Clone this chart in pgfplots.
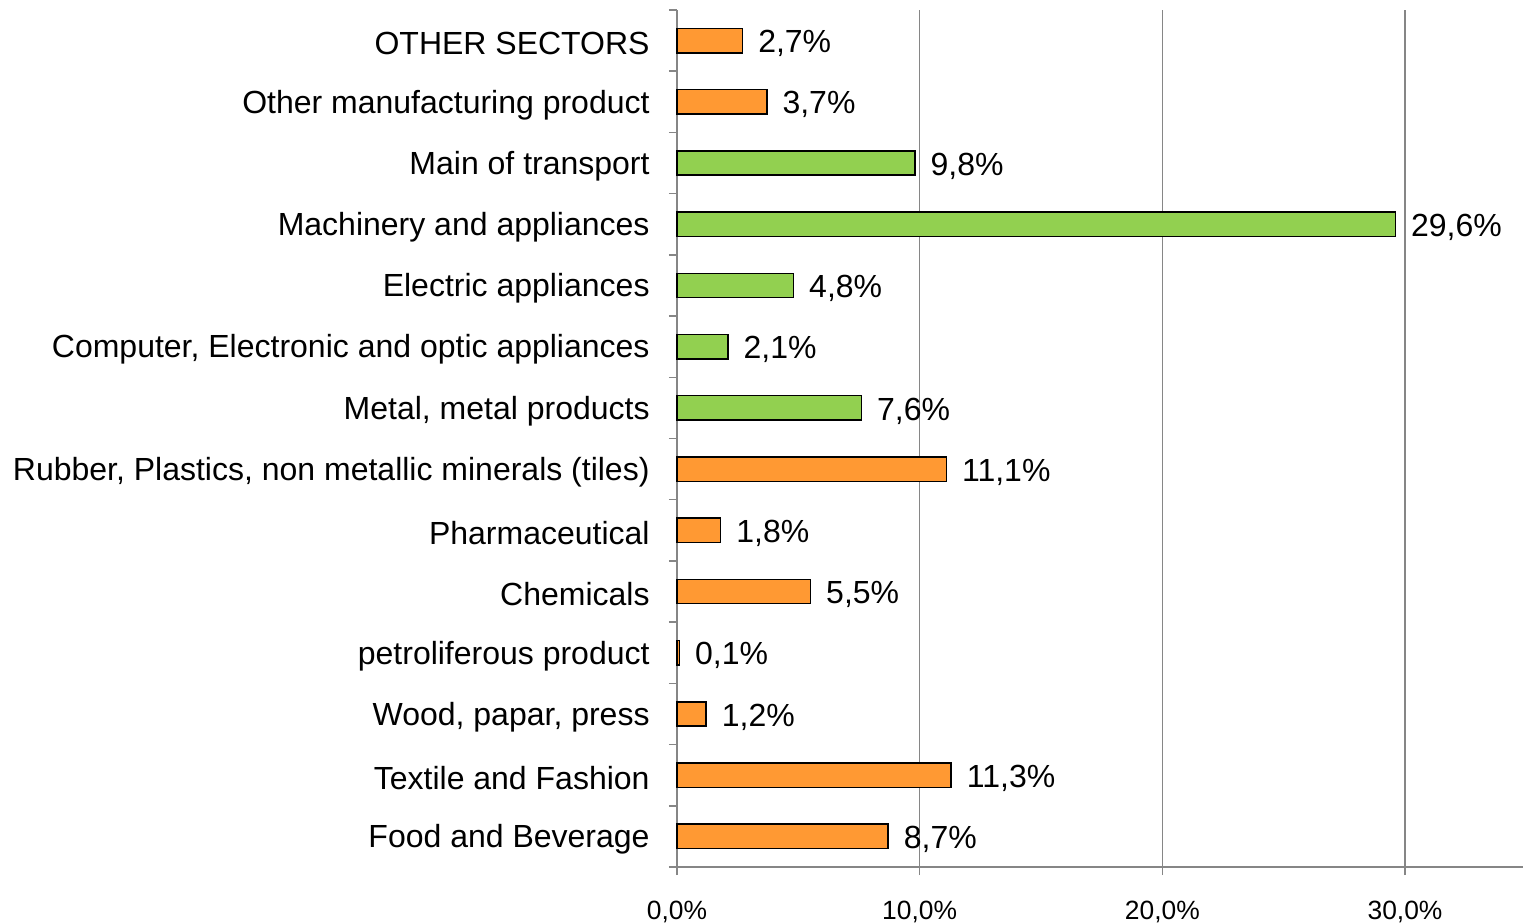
\documentclass[border=0pt]{standalone}
\usepackage{fontspec}
\setmainfont{Liberation Sans}
\usepackage{pgfplots}
\pgfplotsset{compat=1.18}
\definecolor{barorange}{HTML}{FF9933}
\definecolor{bargreen}{HTML}{92D050}
\definecolor{axgray}{HTML}{868686}
\begin{document}
\begin{tikzpicture}
\begin{axis}[
  at={(0,0)}, anchor=south west,
  scale only axis, width=423pt, height=428.5pt,
  xmin=0, xmax=34.86, ymin=-0.5, ymax=13.5,
  xbar, bar width=12.2pt, bar shift=0pt,
  axis x line*=bottom, axis y line*=left,
  axis line style={draw=axgray, line width=0.75pt},
  xtick={0,10,20,30},
  xticklabels={{0,0\%},{10,0\%},{20,0\%},{30,0\%}},
  xticklabel style={font=\fontsize{13.2}{15}\selectfont, inner sep=0pt, anchor=north, yshift=-13pt},
  ytick={0,...,13},
  yticklabels={Food and Beverage,Textile and Fashion,{Wood, papar, press},petroliferous product,Chemicals,Pharmaceutical,{Rubber, Plastics, non metallic minerals (tiles)},{Metal, metal products},{Computer, Electronic and optic appliances},Electric appliances,Machinery and appliances,Main of transport,Other manufacturing product,OTHER SECTORS},
  yticklabel style={font=\fontsize{16}{19}\selectfont, inner sep=0pt, anchor=east, xshift=-9.5pt, yshift=-1.5pt},
  minor ytick={-0.5,0.5,...,13.5},
  major y tick style={draw=none},
  tick align=outside, major tick length=4pt, minor tick length=4pt,
  tick style={draw=axgray, line width=0.75pt},
  xmajorgrids, major x grid style={draw=axgray, line width=0.8pt},
  /pgf/number format/assume math mode=true,
  nodes near coords={\pgfmathprintnumber[fixed,fixed zerofill,precision=1,use comma]{\pgfplotspointmeta}\%},
  every node near coord/.append style={font=\fontsize{16}{19}\selectfont, anchor=west, inner sep=0pt, xshift=7.5pt, yshift=-1.5pt, text=black},
  clip=false,
]
\addplot[fill=barorange, draw=black, line width=0.75pt] coordinates {
  (8.7,0) (11.3,1) (1.2,2) (0.1,3) (5.5,4) (1.8,5) (11.1,6) (3.7,12) (2.7,13)};
\addplot[fill=bargreen, draw=black, line width=0.75pt] coordinates {
  (7.6,7) (2.1,8) (4.8,9) (29.6,10) (9.8,11)};
\end{axis}
\pgfresetboundingbox
\path (-338.5pt,-28pt) rectangle (423pt,433.5pt);
\end{tikzpicture}
\end{document}
